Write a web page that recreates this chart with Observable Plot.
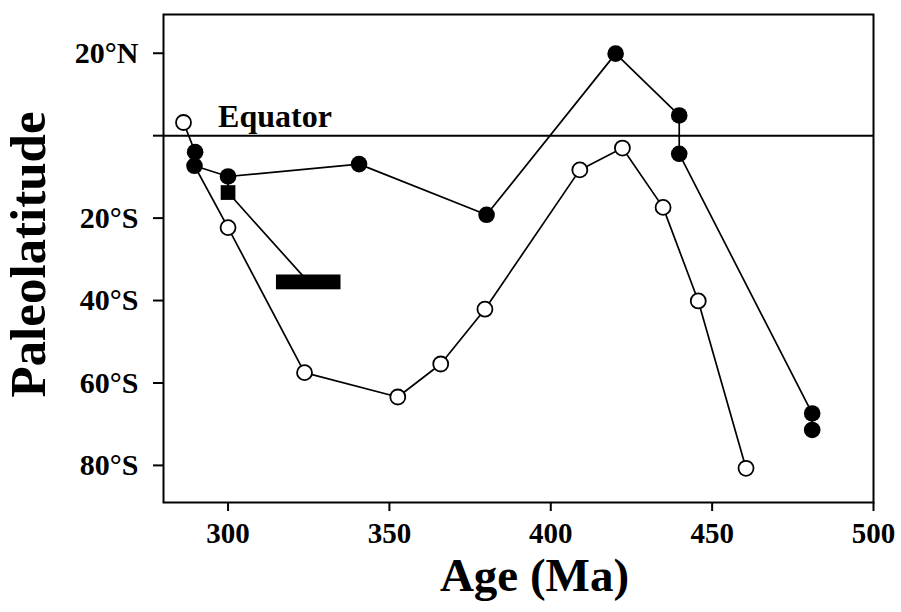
<!DOCTYPE html>
<html>
<head>
<meta charset="utf-8">
<script src="https://cdn.jsdelivr.net/npm/d3@7"></script>
<script src="https://cdn.jsdelivr.net/npm/@observablehq/plot@0.6"></script>
<style>
  html, body { margin: 0; padding: 0; background: #fff; }
  svg text { font-weight: bold; }
</style>
</head>
<body>
<div id="chart"></div>
<script>
// Tick values
const xTicks = [300, 350, 400, 450, 500];
const yTicks = [20, 0, -20, -40, -60, -80];

// Open-circle series (dots)
const openAge = [286.2, 300, 323.7, 352.6, 365.9, 379.6, 409, 422.2, 434.8, 445.7, 460.5];
const openLat = [3.2, -22.3, -57.5, -63.4, -55.4, -42.1, -8.3, -3.0, -17.4, -40.1, -80.7];
// Open series path (passes through the shared filled points near 290 Ma)
const openPathAge = [286.2, 289.8, 289.6, 300, 323.7, 352.6, 365.9, 379.6, 409, 422.2, 434.8, 445.7, 460.5];
const openPathLat = [3.2, -4.0, -7.3, -22.3, -57.5, -63.4, -55.4, -42.1, -8.3, -3.0, -17.4, -40.1, -80.7];

// Filled-circle series
const filledAge = [289.8, 289.6, 300, 340.6, 380.1, 420.1, 439.8, 439.8, 481, 481];
const filledLat = [-4.0, -7.3, -9.9, -6.9, -19.2, 19.9, 4.9, -4.4, -67.4, -71.4];

// Square point and its branch to the age-range bar
const squareAge = [300];
const squareLat = [-13.8];
const branchAge = [300, 300, 325];
const branchLat = [-9.9, -13.8, -35.6];

// Age-range bar
const barAge = [[315, 335]];
const barLat = [[-33.8, -37.4]];

const openPts = openAge.map((a, i) => ({age: a, lat: openLat[i]}));
const openPath = openPathAge.map((a, i) => ({age: a, lat: openPathLat[i]}));
const filledPts = filledAge.map((a, i) => ({age: a, lat: filledLat[i]}));
const squarePts = squareAge.map((a, i) => ({age: a, lat: squareLat[i]}));
const branch = branchAge.map((a, i) => ({age: a, lat: branchLat[i]}));
const bars = barAge.map((a, i) => ({x1: a[0], x2: a[1], y1: barLat[i][0], y2: barLat[i][1]}));

const fmtLat = d => d > 0 ? `${d}°N` : d < 0 ? `${-d}°S` : "";
const serif = "'Liberation Serif', 'Times New Roman', Times, serif";

const chart = Plot.plot({
  width: 901,
  height: 612,
  marginLeft: 163,
  marginRight: 28,
  marginTop: 14,
  marginBottom: 110,
  x: {domain: [280, 500]},
  y: {domain: [-89, 29.4]},
  style: {fontFamily: serif, fontSize: "29px", color: "#000", background: "#fff"},
  marks: [
    Plot.ruleY([0], {stroke: "#000", strokeWidth: 2}),
    Plot.axisX({ticks: xTicks, tickSize: 9, tickPadding: 11, label: null, strokeWidth: 2, fontSize: 29}),
    Plot.axisY({ticks: yTicks, tickSize: 10, tickPadding: 15, tickFormat: fmtLat, label: null, strokeWidth: 2, fontSize: 30}),
    Plot.frame({stroke: "#000", strokeWidth: 2}),
    Plot.text(["Equator"], {x: 296.9, y: 2, text: d => d, textAnchor: "start", lineAnchor: "bottom", fontSize: 32, fill: "#000"}),
    Plot.line(openPath, {x: "age", y: "lat", stroke: "#000", strokeWidth: 1.7}),
    Plot.line(filledPts, {x: "age", y: "lat", stroke: "#000", strokeWidth: 1.7}),
    Plot.line(branch, {x: "age", y: "lat", stroke: "#000", strokeWidth: 1.7}),
    Plot.rect(bars, {x1: "x1", x2: "x2", y1: "y1", y2: "y2", fill: "#000"}),
    Plot.dot(openPts, {x: "age", y: "lat", r: 7.5, fill: "#fff", stroke: "#000", strokeWidth: 1.8}),
    Plot.dot(filledPts, {x: "age", y: "lat", r: 8.3, fill: "#000", stroke: "none"}),
    Plot.dot(squarePts, {x: "age", y: "lat", r: 8.3, symbol: "square", fill: "#000", stroke: "none"}),
    Plot.text(["Paleolatitude"], {frameAnchor: "left", text: d => d, rotate: -90, textAnchor: "middle", lineAnchor: "middle", dx: -135, dy: -4, fontSize: 51, fill: "#000"}),
    Plot.text(["Age (Ma)"], {frameAnchor: "bottom", text: d => d, textAnchor: "middle", dx: 16, dy: 88, lineAnchor: "bottom", fontSize: 47, fill: "#000"})
  ]
});
document.getElementById("chart").appendChild(chart);
</script>
</body>
</html>
